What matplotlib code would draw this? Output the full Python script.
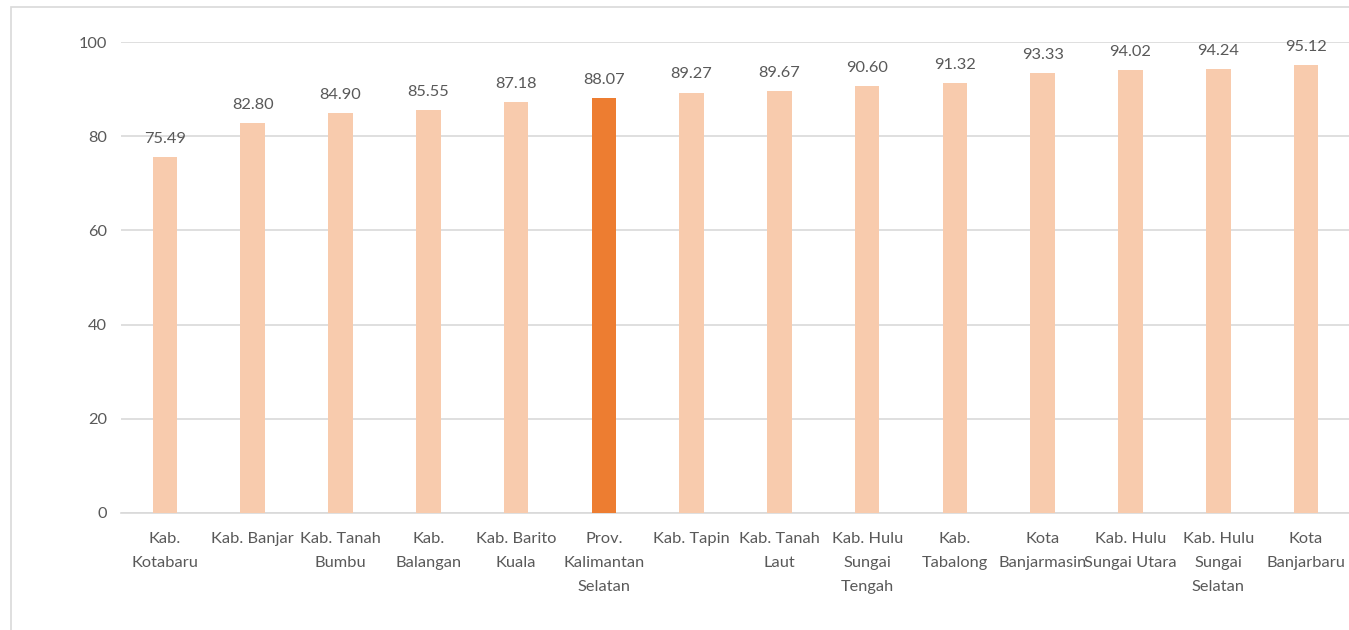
import matplotlib
matplotlib.use("Agg")
import matplotlib.pyplot as plt
from matplotlib.patches import Rectangle

categories = ["Kab.\nKotabaru", "Kab. Banjar", "Kab. Tanah\nBumbu", "Kab.\nBalangan",
              "Kab. Barito\nKuala", "Prov.\nKalimantan\nSelatan", "Kab. Tapin",
              "Kab. Tanah\nLaut", "Kab. Hulu\nSungai\nTengah", "Kab.\nTabalong",
              "Kota\nBanjarmasin", "Kab. Hulu\nSungai Utara", "Kab. Hulu\nSungai\nSelatan",
              "Kota\nBanjarbaru"]
values = [75.49, 82.80, 84.90, 85.55, 87.18, 88.07, 89.27, 89.67, 90.60, 91.32,
          93.33, 94.02, 94.24, 95.12]
highlight = "Prov.\nKalimantan\nSelatan"
yticks = [0, 20, 40, 60, 80, 100]

plt.rcParams['font.family'] = ['Lato', 'DejaVu Sans']
text_color = "#595959"
fs = 11.8

fig = plt.figure(figsize=(13.49, 6.30), dpi=100)
W, H = 1349, 630
ax = fig.add_axes([121 / W, 1 - 513 / H, (1350 - 121) / W, (513 - 42) / H])

colors = ["#ED7D31" if c == highlight else "#F8CBAD" for c in categories]
x = list(range(len(categories)))
bars = ax.bar(x, values, width=0.28, color=colors, zorder=3)

for xi, v in zip(x, values):
    ax.annotate(f"{v:.2f}", (xi, v), xytext=(0, 8), textcoords="offset points",
                ha="center", va="bottom", fontsize=fs, color=text_color)

ax.set_xlim(-0.5, len(categories) - 0.5)
ax.set_ylim(0, 100)
ax.set_yticks(yticks)
ax.set_yticklabels([str(t) for t in yticks], fontsize=fs, color=text_color)
ax.set_xticks(x)
ax.set_xticklabels(categories, fontsize=fs, color=text_color, linespacing=1.9)
ax.tick_params(axis="both", length=0)
ax.tick_params(axis="x", pad=14)
ax.tick_params(axis="y", pad=10)
ax.grid(axis="y", color="#D9D9D9", linewidth=1.2, zorder=0)
for s in ["top", "right", "left"]:
    ax.spines[s].set_visible(False)
ax.spines["bottom"].set_color("#D9D9D9")
ax.spines["bottom"].set_linewidth(1.2)

fig.patches.append(Rectangle((11 / W, -0.05), 2, 1 - 7 / H + 0.05,
                             transform=fig.transFigure, fill=False,
                             edgecolor="#D9D9D9", linewidth=1.2))

fig.savefig("out.png", dpi=100)
